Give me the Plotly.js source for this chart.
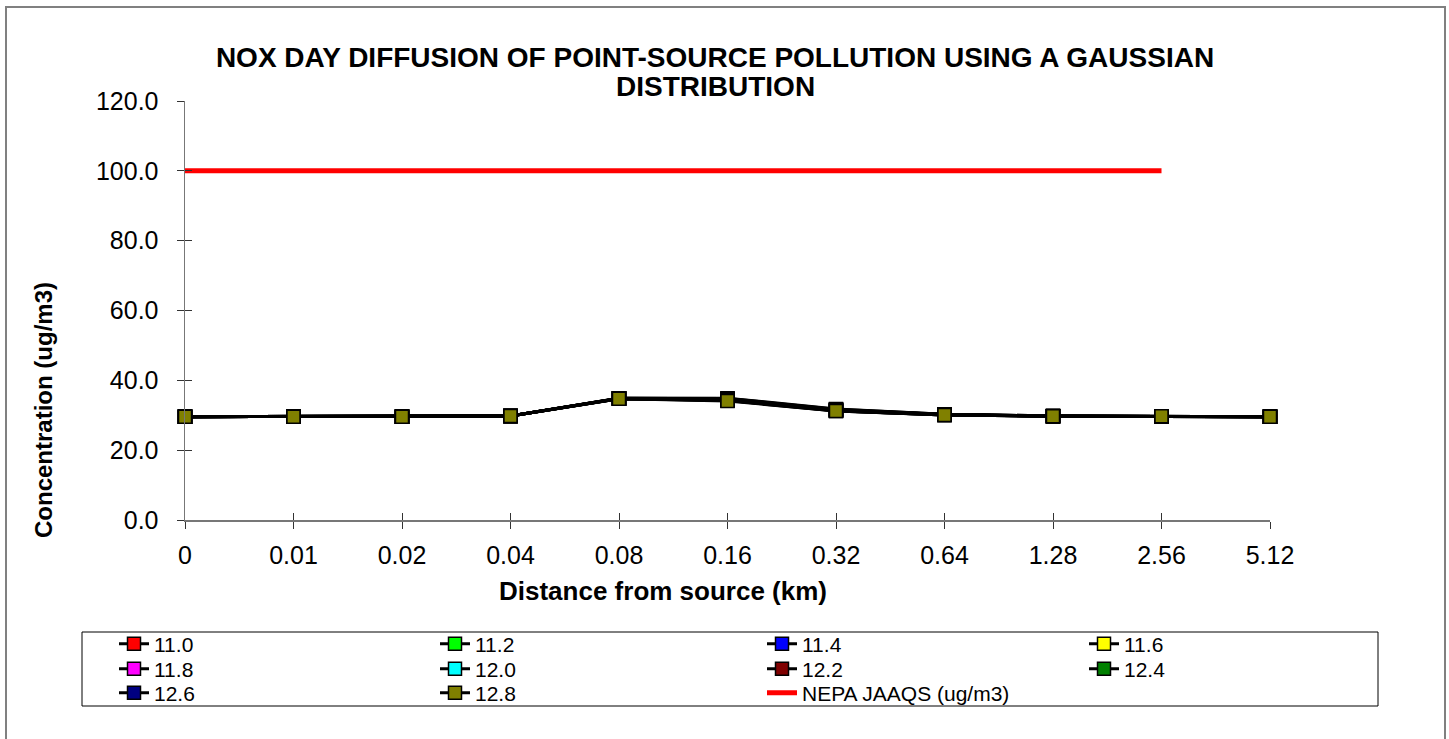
<!DOCTYPE html>
<html>
<head>
<meta charset="utf-8">
<script src="https://cdn.plot.ly/plotly-3.0.1.min.js"></script>
<style>html,body{margin:0;padding:0;background:#fff;}#chart{width:1449px;height:739px;}</style>
</head>
<body>
<div id="chart"></div>
<script>
var categories = ['0','0.01','0.02','0.04','0.08','0.16','0.32','0.64','1.28','2.56','5.12'];
var seriesNames = ['11.0','11.2','11.4','11.6','11.8','12.0','12.2','12.4','12.6','12.8'];
var s110 = [29.6,29.6,29.6,29.8,34.9,34.9,31.8,30.3,29.8,29.7,29.6];
var s112 = [29.6,29.6,29.6,29.8,34.9,34.8,31.7,30.3,29.8,29.7,29.6];
var s114 = [29.6,29.6,29.6,29.8,34.9,34.7,31.6,30.2,29.8,29.7,29.6];
var s116 = [29.6,29.6,29.6,29.8,34.8,34.6,31.5,30.2,29.8,29.7,29.6];
var s118 = [29.6,29.6,29.6,29.8,34.8,34.5,31.5,30.2,29.7,29.7,29.6];
var s120 = [29.6,29.6,29.6,29.8,34.8,34.4,31.4,30.2,29.7,29.7,29.6];
var s122 = [29.6,29.6,29.6,29.8,34.8,34.3,31.3,30.1,29.7,29.7,29.6];
var s124 = [29.6,29.6,29.6,29.8,34.7,34.3,31.3,30.1,29.7,29.7,29.6];
var s126 = [29.6,29.6,29.6,29.8,34.7,34.2,31.2,30.1,29.7,29.7,29.6];
var s128 = [29.6,29.6,29.6,29.8,34.7,34.1,31.2,30.1,29.7,29.7,29.6];
var nepa = [100,100,100,100,100,100,100,100,100,100,null];
var nepaName = 'NEPA JAAQS (ug/m3)';
var yTicks = [0,20,40,60,80,100,120];
var titleLine1 = 'NOX DAY DIFFUSION OF POINT-SOURCE POLLUTION USING A GAUSSIAN';
var titleLine2 = 'DISTRIBUTION';
var xTitle = 'Distance from source (km)';
var yTitle = 'Concentration (ug/m3)';

var seriesValues = [s110,s112,s114,s116,s118,s120,s122,s124,s126,s128];
var markerColors = ['#FF0000','#00FF00','#0000FF','#FFFF00','#FF00FF','#00FFFF','#800000','#008000','#000080','#808000'];

var FONT = 'Liberation Sans, Arial, sans-serif';
var plotL = 185, plotR = 1270, plotT = 101, plotB = 520;
var pw = plotR - plotL, ph = plotB - plotT;
function px(x) { return (x - plotL) / pw; }
function py(y) { return (plotB - y) / ph; }

// legend grid: 4 columns x 3 rows, each entry its own legend box
var colLeft = [114, 435, 762, 1084];
var rowMid = [644, 669, 693];
function legendId(k) { return k === 0 ? 'legend' : 'legend' + (k + 1); }
function legendAt(k) {
  var c = k % 4, r = Math.floor(k / 4);
  return {
    orientation: 'h', x: px(colLeft[c]), xanchor: 'left', y: py(rowMid[r]), yanchor: 'middle',
    bgcolor: 'rgba(0,0,0,0)', borderwidth: 0,
    font: {family: FONT, size: 21, color: '#000'}, itemclick: false
  };
}

var traces = [];
for (var i = 0; i < seriesValues.length; i++) {
  traces.push({
    type: 'scatter', mode: 'lines+markers',
    x: categories, y: seriesValues[i], name: seriesNames[i],
    legend: legendId(i), cliponaxis: false,
    line: {color: '#000000', width: 3},
    marker: {symbol: 'square', size: 13, color: markerColors[i], line: {color: '#000000', width: 1.5}}
  });
}
traces.push({
  type: 'scatter', mode: 'lines', x: categories, y: nepa, name: nepaName,
  legend: legendId(10), cliponaxis: false,
  line: {color: '#FF0000', width: 5}
});
// overlay axes carrying the inward half of the crossing ticks
traces.push({type: 'scatter', x: [], y: [], xaxis: 'x2', yaxis: 'y2', showlegend: false, hoverinfo: 'skip'});

var layout = {
  width: 1449, height: 739,
  paper_bgcolor: '#ffffff', plot_bgcolor: '#ffffff',
  margin: {l: plotL, r: 1449 - plotR, t: plotT, b: 739 - plotB},
  font: {family: FONT, color: '#000'},
  title: {
    text: titleLine1,
    font: {family: FONT, size: 28, color: '#000', weight: 'bold'},
    xref: 'container', x: 715 / 1449, xanchor: 'center',
    yref: 'container', y: 1 - 57 / 739, yanchor: 'middle'
  },
  xaxis: {
    type: 'category', range: [0, 10], showgrid: false, zeroline: false,
    showline: true, linecolor: '#777', linewidth: 1.5,
    ticks: 'outside', ticklen: 7, tickcolor: '#333', tickwidth: 1,
    tickfont: {family: FONT, size: 25, color: '#000'}, ticklabelstandoff: 5,
    automargin: false, fixedrange: true
  },
  yaxis: {
    range: [0, 120], tickvals: yTicks, tickformat: '.1f', showgrid: false, zeroline: false,
    showline: true, linecolor: '#777', linewidth: 1.5,
    ticks: 'outside', ticklen: 7, tickcolor: '#333', tickwidth: 1,
    tickfont: {family: FONT, size: 25, color: '#000'}, ticklabelstandoff: 13,
    automargin: false, fixedrange: true
  },
  xaxis2: {
    overlaying: 'x', anchor: 'y2', side: 'bottom', range: [0, 10], dtick: 1, tick0: 0,
    showgrid: false, zeroline: false, showline: false, showticklabels: false,
    ticks: 'inside', ticklen: 7, tickcolor: '#333', tickwidth: 1, fixedrange: true
  },
  yaxis2: {
    overlaying: 'y', anchor: 'x2', side: 'left', range: [0, 120], tickvals: yTicks,
    showgrid: false, zeroline: false, showline: false, showticklabels: false,
    ticks: 'inside', ticklen: 7, tickcolor: '#333', tickwidth: 1, fixedrange: true
  },
  annotations: [
    {text: titleLine2, xref: 'paper', yref: 'paper', x: px(715), y: py(87), xanchor: 'center', yanchor: 'middle',
     showarrow: false, font: {family: FONT, size: 28, color: '#000', weight: 'bold'}},
    {text: xTitle, xref: 'paper', yref: 'paper', x: px(663), y: py(591), xanchor: 'center', yanchor: 'middle',
     showarrow: false, font: {family: FONT, size: 26, color: '#000', weight: 'bold'}},
    {text: yTitle, xref: 'paper', yref: 'paper', x: px(43), y: py(410), xanchor: 'center', yanchor: 'middle',
     textangle: -90, showarrow: false, font: {family: FONT, size: 24, color: '#000', weight: 'bold'}}
  ],
  shapes: [
    {type: 'rect', xref: 'paper', yref: 'paper', x0: px(6), x1: px(1445), y0: py(7), y1: py(760),
     line: {color: '#808080', width: 2}, fillcolor: 'rgba(0,0,0,0)', layer: 'below'},
    {type: 'rect', xref: 'paper', yref: 'paper', x0: px(82), x1: px(1378), y0: py(632), y1: py(706),
     line: {color: '#000000', width: 1}, fillcolor: 'rgba(0,0,0,0)', layer: 'below'}
  ],
  showlegend: true, hovermode: false
};
for (var k = 0; k < 11; k++) { layout[legendId(k)] = legendAt(k); }

Plotly.newPlot('chart', traces, layout, {displayModeBar: false, staticPlot: true});
</script>
</body>
</html>
